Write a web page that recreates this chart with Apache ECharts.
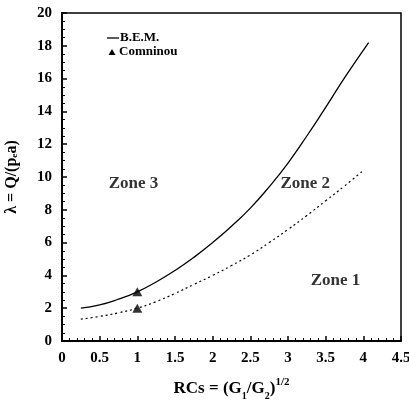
<!DOCTYPE html>
<html>
<head>
<meta charset="utf-8">
<script src="https://cdn.jsdelivr.net/npm/echarts@6/dist/echarts.min.js"></script>
<style>
  html, body { margin: 0; padding: 0; background: #fff; }
  #chart { width: 409px; height: 412px; }
</style>
</head>
<body>
<div id="chart"></div>
<script>
// RCs values and lambda
const upperX = [0.25, 0.5, 0.75, 1.0, 1.25, 1.5, 1.75, 2.0, 2.25, 2.5, 2.75, 3.0, 3.25, 3.5, 3.75, 4.07];
const upperY = [2.0, 2.2, 2.55, 3.0, 3.6, 4.3, 5.1, 6.0, 7.0, 8.1, 9.4, 10.85, 12.5, 14.25, 16.05, 18.2];
const lowerX = [0.25, 0.5, 0.75, 1.0, 1.25, 1.5, 1.75, 2.0, 2.25, 2.5, 2.75, 3.0, 3.25, 3.5, 3.75, 4.0];
const lowerY = [1.33, 1.5, 1.72, 2.0, 2.4, 2.9, 3.45, 4.0, 4.6, 5.25, 6.0, 6.8, 7.65, 8.55, 9.45, 10.4];
const comninouX = [1.0, 1.0];
const comninouY = [3.0, 2.0];
const zoneNames = ["Zone 3", "Zone 2", "Zone 1"];
const zoneX = [0.95, 3.23, 3.63];
const zoneY = [9.6, 9.6, 3.7];

const serif = "Liberation Serif";
const chart = echarts.init(document.getElementById("chart"));

const pairs = (xs, ys) => xs.map((x, i) => [x, ys[i]]);
const labelFont = { fontFamily: serif, fontWeight: "bold", fill: "#000" };

chart.setOption({
  backgroundColor: "#fff",
  animation: false,
  textStyle: { fontFamily: serif, color: "#000" },
  grid: {
    left: 62, right: 8, top: 13, bottom: 71,
    outerBoundsMode: "none",
    show: true, borderColor: "#000", borderWidth: 1.5
  },
  // legend drawn by hand, like the scanned figure
  graphic: [
    { type: "line", shape: { x1: 107, y1: 38, x2: 119, y2: 38 }, style: { stroke: "#000", lineWidth: 1.3 } },
    { type: "text", left: 120, top: 31, style: Object.assign({ text: "B.E.M.", fontSize: 13 }, labelFont) },
    { type: "polygon", shape: { points: [[112, 49], [115.5, 55], [108.5, 55]] }, style: { fill: "#000" } },
    { type: "text", left: 119, top: 45, style: Object.assign({ text: "Comninou", fontSize: 13 }, labelFont) }
  ],
  xAxis: {
    type: "value", min: 0, max: 4.5, interval: 0.5,
    axisLine: { lineStyle: { color: "#000", width: 2 } },
    axisTick: { inside: true, length: 5, lineStyle: { color: "#000", width: 1.5 } },
    minorTick: { show: true, splitNumber: 5, length: 3, lineStyle: { color: "#000", width: 1 } },
    splitLine: { show: false },
    axisLabel: { color: "#000", fontFamily: serif, fontWeight: "bold", fontSize: 15, margin: 10 },
    name: "{a|RCs = (G}{s|1}{a|/G}{s|2}{a|)}{p|1/2}",
    nameLocation: "middle", nameGap: 36,
    nameTextStyle: {
      rich: {
        a: { fontFamily: serif, fontWeight: "bold", fontSize: 17, lineHeight: 24, color: "#000" },
        s: { fontFamily: serif, fontWeight: "bold", fontSize: 10, lineHeight: 10, verticalAlign: "bottom", color: "#000" },
        p: { fontFamily: serif, fontWeight: "bold", fontSize: 11, lineHeight: 11, verticalAlign: "top", color: "#000" }
      }
    }
  },
  yAxis: {
    type: "value", min: 0, max: 20, interval: 2,
    axisLine: { lineStyle: { color: "#000", width: 2 } },
    axisTick: { inside: true, length: 5, lineStyle: { color: "#000", width: 1.5 } },
    minorTick: { show: true, splitNumber: 4, length: 3, lineStyle: { color: "#000", width: 1 } },
    splitLine: { show: false },
    axisLabel: { color: "#000", fontFamily: serif, fontWeight: "bold", fontSize: 15, margin: 10 },
    name: "λ = Q/(pₑa)",
    nameLocation: "middle", nameGap: 42,
    nameTextStyle: { fontFamily: serif, fontWeight: "bold", fontSize: 16, color: "#000" }
  },
  series: [
    {
      name: "B.E.M.", type: "line", smooth: 0.5, symbol: "none",
      lineStyle: { color: "#000", width: 1.3 },
      data: pairs(upperX, upperY)
    },
    {
      name: "B.E.M. lower", type: "line", smooth: 0.5, symbol: "none",
      lineStyle: { color: "#000", width: 1.2, type: [2, 3] },
      data: pairs(lowerX, lowerY)
    },
    {
      name: "Comninou", type: "scatter", symbol: "triangle", symbolSize: [10, 9],
      itemStyle: { color: "#000" },
      data: pairs(comninouX, comninouY)
    },
    {
      name: "zones", type: "scatter", symbolSize: 0, silent: true,
      label: {
        show: true, position: "inside", formatter: (p) => p.data[2],
        fontFamily: serif, fontWeight: "bold", fontSize: 17, color: "#000"
      },
      data: zoneNames.map((n, i) => [zoneX[i], zoneY[i], n])
    }
  ]
});
</script>
</body>
</html>
